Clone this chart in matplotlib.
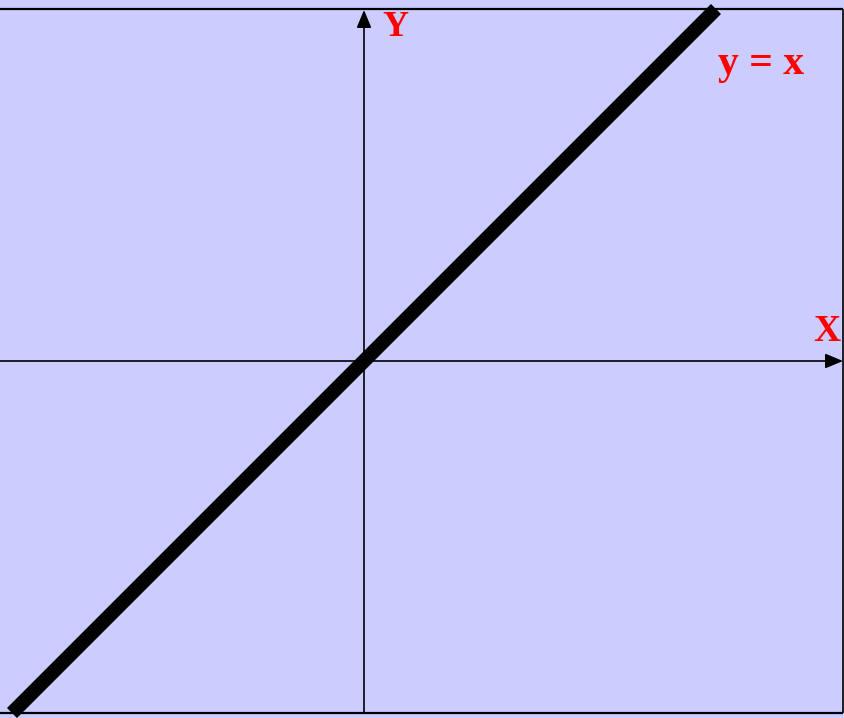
import matplotlib
matplotlib.use("Agg")
import matplotlib.pyplot as plt

# Data: the line y = x (in pixel-like units, origin at the axes crossing)
line_x = [-352, 352]
line_y = [-352, 352]

# Labels
x_label = "X"
y_label = "Y"
eq_label = "y = x"

BG = "#CCCCFF"
RED = "#FF0000"

W, H = 844, 718
fig = plt.figure(figsize=(W / 100, H / 100), dpi=100, facecolor=BG)
ax = fig.add_axes([0, 0, 1, 1])
ax.set_facecolor(BG)
X0, X1 = -364, 480
Y0, Y1 = -357, 361
ax.set_xlim(X0, X1)
ax.set_ylim(Y0, Y1)
ax.axis("off")

# Frame (top, bottom, right)
box_top, box_bot, box_right = 352, -352, 479
ax.plot([X0, box_right], [box_top, box_top], color="black", lw=1.6, solid_capstyle="butt")
ax.plot([X0, box_right], [box_bot, box_bot], color="black", lw=1.6, solid_capstyle="butt")
ax.plot([box_right, box_right], [box_bot, box_top], color="black", lw=1.2, solid_capstyle="butt")

# Coordinate axes with arrows
arrow = dict(arrowstyle="-|>,head_length=0.6,head_width=0.25", mutation_scale=18,
             color="black", lw=1.2, shrinkA=0, shrinkB=0)
ax.annotate("", xy=(box_right, 0), xytext=(X0, 0), arrowprops=arrow)
ax.annotate("", xy=(0, 351), xytext=(0, box_bot), arrowprops=arrow)

# The line y = x
ax.plot(line_x, line_y, color="black", lw=10.2, solid_capstyle="butt")

font = dict(family="Liberation Serif", weight="bold", color=RED)
ax.text(31, 361 - 36, y_label, fontsize=26, ha="center", va="baseline", **font)
ax.text(463, 361 - 341, x_label, fontsize=27, ha="center", va="baseline", **font)
ax.text(397, 361 - 74, eq_label, fontsize=30, ha="center", va="baseline", **font)

fig.savefig("out.png", dpi=100, facecolor=BG)
